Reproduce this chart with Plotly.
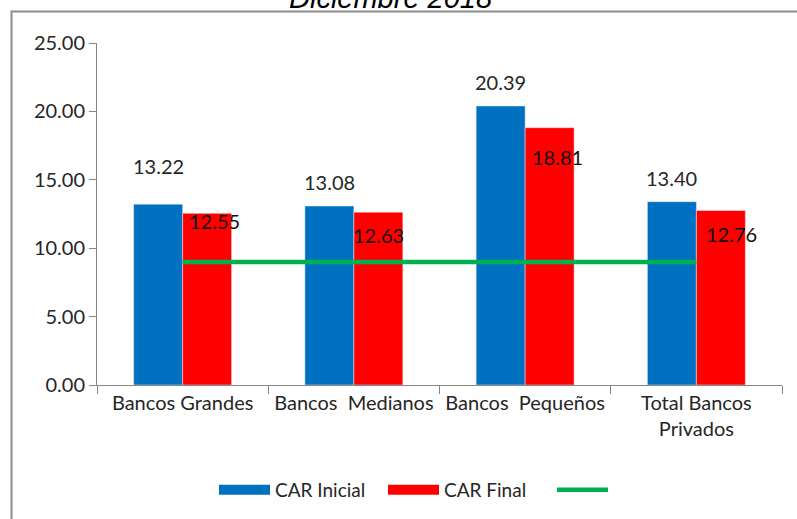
import plotly.graph_objects as go

categories = ["Bancos Grandes", "Bancos  Medianos", "Bancos  Pequeños", "Total Bancos<br>Privados"]
car_inicial = [13.22, 13.08, 20.39, 13.40]
car_final = [12.55, 12.63, 18.81, 12.76]
minimo = [9, 9, 9, 9]
y_ticks = [0, 5, 10, 15, 20, 25]
y_tick_labels = ["0.00", "5.00", "10.00", "15.00", "20.00", "25.00"]
title_text = "Diciembre 2018"

BLUE = "#0070C0"
RED = "#FF0000"
GREEN = "#00B050"
FONT = "Lato"
TXT = "#262626"

# label fine offsets (px) to mimic the original placement
blue_dy = [38, 24, 24, 24]
red_dx = [7, 0, 8, 11]
red_dy = [-8, -23, -29, -24]

bargap = 0.428
half = (1 - bargap) / 4  # centre offset of each bar in category units

fig = go.Figure()
fig.add_trace(go.Bar(x=categories, y=car_inicial, name="CAR Inicial", marker_color=BLUE,
                     showlegend=False, legendgroup="a"))
fig.add_trace(go.Bar(x=categories, y=car_final, name="CAR Final", marker_color=RED,
                     showlegend=False, legendgroup="b"))
fig.add_trace(go.Scatter(x=categories, y=minimo, mode="lines", name=" ",
                         line=dict(color=GREEN, width=4.5), showlegend=False, legendgroup="c"))
# legend entries
fig.add_trace(go.Scatter(x=[None], y=[None], mode="lines", name="CAR Inicial",
                         line=dict(color=BLUE, width=10), legendgroup="a"))
fig.add_trace(go.Scatter(x=[None], y=[None], mode="lines", name="CAR Final",
                         line=dict(color=RED, width=10), legendgroup="b"))
fig.add_trace(go.Scatter(x=[None], y=[None], mode="lines", name=" ",
                         line=dict(color=GREEN, width=4.5), legendgroup="c"))

ann = []
for i, v in enumerate(car_inicial):
    ann.append(dict(x=i - half, y=v, xref="x", yref="y", text=f"{v:.2f}", showarrow=False,
                    yshift=blue_dy[i], font=dict(family=FONT, size=20, color=TXT)))
for i, v in enumerate(car_final):
    ann.append(dict(x=i + half, y=v, xref="x", yref="y", text=f"{v:.2f}", showarrow=False,
                    xshift=red_dx[i], yshift=red_dy[i], font=dict(family=FONT, size=20, color="#111111")))
ann.append(dict(x=0.4285, y=1.133, xref="paper", yref="paper", text=f"<i>{title_text}</i>",
                xanchor="center", yanchor="middle",
                showarrow=False, font=dict(family="Liberation Sans", size=29, color="#000000")))

fig.update_layout(
    width=797, height=519,
    margin=dict(l=97, r=15, t=43, b=134, autoexpand=False),
    paper_bgcolor="white", plot_bgcolor="white",
    barmode="group", bargap=bargap, bargroupgap=0,
    font=dict(family=FONT, size=20, color=TXT),
    showlegend=True,
    legend=dict(orientation="h", x=0.1708, xanchor="left", y=-0.307, yanchor="middle",
                font=dict(family=FONT, size=19, color=TXT), itemwidth=51,
                entrywidth=103, entrywidthmode="pixels",
                bgcolor="rgba(0,0,0,0)"),
    annotations=ann,
    shapes=[dict(type="rect", xref="paper", yref="paper", x0=-0.1248, x1=1.2, y0=-0.6, y1=1.0921,
                 line=dict(color="#8C8C8C", width=2), fillcolor="rgba(0,0,0,0)", layer="below")],
)
fig.update_xaxes(type="category", showline=True, linecolor="#868686", linewidth=1,
                 ticks="outside", tickson="boundaries", ticklen=8, tickcolor="#868686",
                 showgrid=False, tickfont=dict(family=FONT, size=20, color=TXT))
fig.update_yaxes(range=[0, 25], tickvals=y_ticks, ticktext=y_tick_labels, showline=True,
                 linecolor="#868686", linewidth=1, ticks="outside", ticklen=7, tickcolor="#868686",
                 showgrid=False, zeroline=False, tickfont=dict(family=FONT, size=20, color=TXT))

fig.write_html("out.html", config={"displayModeBar": False},
               post_script="document.body.style.margin='0';")
